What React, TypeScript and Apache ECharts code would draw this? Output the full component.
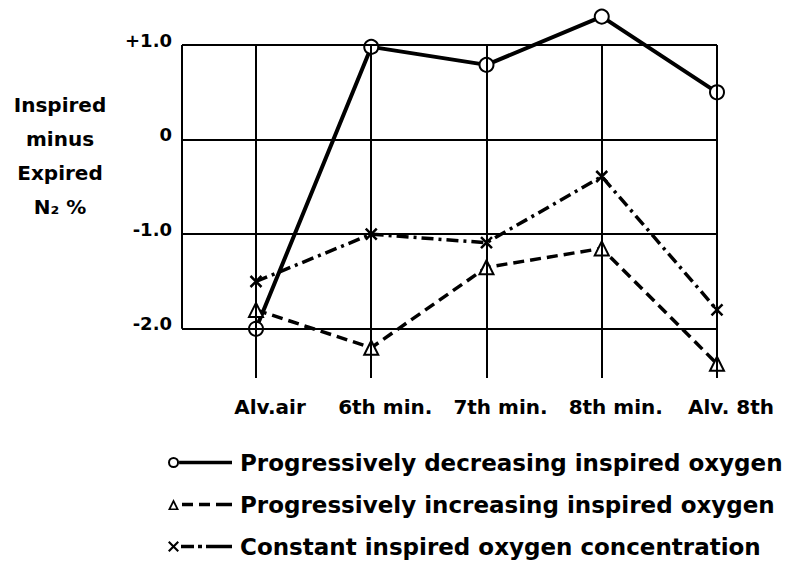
import React, { useEffect, useRef } from "react";
import * as echarts from "echarts";

const CATEGORIES = ["Alv.air", "6th min.", "7th min.", "8th min.", "Alv. 8th"];
const DECREASING = [-2.0, 0.98, 0.79, 1.3, 0.5];
const INCREASING = [-1.8, -2.2, -1.35, -1.15, -2.37];
const CONSTANT = [-1.5, -1.0, -1.09, -0.39, -1.8];
const Y_TICKS = [1, 0, -1, -2];
const SERIES_NAMES = [
  "Progressively decreasing inspired oxygen",
  "Progressively increasing inspired oxygen",
  "Constant inspired oxygen concentration",
];
const Y_NAME = "Inspired\nminus\nExpired\nN\u2082 %";

const XMIN = -0.642;
const XMAX = CATEGORIES.length - 1;
const YMIN = -2.52;
const YMAX = 1;

const FONT = "DejaVu Sans";

const ICON_CIRCLE =
  "path://M0.5,7 A5.5,5.5 0 1,1 11.5,7 A5.5,5.5 0 1,1 0.5,7 Z M2.5,7 A3.5,3.5 0 1,0 9.5,7 A3.5,3.5 0 1,0 2.5,7 Z M11.5,5.2 L64,5.2 L64,8.8 L11.5,8.8 Z";
const ICON_TRIANGLE =
  "path://M0,12.5 L5.5,1.5 L11,12.5 Z M2.8,11 L8.2,11 L5.5,5.6 Z M14,5.2 L25,5.2 L25,8.8 L14,8.8 Z M31,5.2 L42,5.2 L42,8.8 L31,8.8 Z M48,5.2 L64,5.2 L64,8.8 L48,8.8 Z";
const ICON_CROSS =
  "path://M0,3 L1.5,1.5 L11,11 L9.5,12.5 Z M1.5,12.5 L0,11 L9.5,1.5 L11,3 Z M13,5.2 L26,5.2 L26,8.8 L13,8.8 Z M30,5.2 L34,5.2 L34,8.8 L30,8.8 Z M38,5.2 L64,5.2 L64,8.8 L38,8.8 Z";
const CROSS_SYMBOL = "path://M0,0 L10,10 M10,0 L0,10";

function toPoints(values: number[]) {
  return values.map((v, i) => [i, v]);
}

export default function App() {
  const ref = useRef<HTMLDivElement>(null);

  useEffect(() => {
    if (!ref.current) return;
    const chart = echarts.init(ref.current, null, { renderer: "svg" });

    const gridLines: any[] = [];
    Y_TICKS.forEach((y) => {
      gridLines.push([{ coord: [XMIN, y] }, { coord: [XMAX, y] }]);
    });
    gridLines.push([{ coord: [XMIN, YMAX] }, { coord: [XMIN, Y_TICKS[Y_TICKS.length - 1]] }]);
    CATEGORIES.forEach((_, i) => {
      gridLines.push([{ coord: [i, YMAX] }, { coord: [i, YMIN] }]);
    });

    const option: any = {
      animation: false,
      backgroundColor: "#fff",
      textStyle: { fontFamily: FONT, color: "#000" },
      grid: { left: 182, right: 78, top: 45, bottom: 191 },
      xAxis: {
        type: "value",
        min: XMIN,
        max: XMAX,
        axisLine: { show: false },
        axisTick: { show: false },
        splitLine: { show: false },
        axisLabel: {
          customValues: CATEGORIES.map((_, i) => i),
          formatter: (v: number) => CATEGORIES[Math.round(v)] ?? "",
          fontFamily: FONT,
          fontSize: 20,
          fontWeight: "bold",
          color: "#000",
          margin: 19,
          padding: [0, 0, 0, 28],
        },
      },
      yAxis: {
        type: "value",
        min: YMIN,
        max: YMAX,
        axisLine: { show: false },
        axisTick: { show: false },
        splitLine: { show: false },
        axisLabel: {
          customValues: Y_TICKS,
          formatter: (v: number) => (v > 0 ? "+" + v.toFixed(1) : v === 0 ? "0" : v.toFixed(1)),
          fontFamily: FONT,
          fontSize: 18,
          fontWeight: "bold",
          color: "#000",
          margin: 10,
          verticalAlign: "bottom",
          lineHeight: 10,
        },
      },
      legend: {
        orient: "vertical",
        left: 168,
        top: 451,
        padding: 0,
        itemWidth: 64,
        itemHeight: 13,
        itemGap: 19,
        selectedMode: false,
        itemStyle: { color: "#000", borderWidth: 0 },
        textStyle: {
          fontFamily: FONT,
          fontSize: 23,
          fontWeight: "bold",
          color: "#000",
          padding: [0, 0, 0, 3],
        },
        data: [
          { name: SERIES_NAMES[0], icon: ICON_CIRCLE },
          { name: SERIES_NAMES[1], icon: ICON_TRIANGLE },
          { name: SERIES_NAMES[2], icon: ICON_CROSS },
        ],
      },
      graphic: [
        {
          type: "text",
          x: 60,
          y: 88,
          style: {
            text: Y_NAME,
            fontFamily: FONT,
            fontSize: 20,
            fontWeight: "bold",
            fill: "#000",
            align: "center",
            verticalAlign: "top",
            lineHeight: 34,
          },
        },
      ],
      series: [
        {
          type: "line",
          name: "grid",
          data: [],
          silent: true,
          z: 1,
          markLine: {
            silent: true,
            symbol: "none",
            label: { show: false },
            lineStyle: { color: "#000", width: 2, type: "solid" },
            data: gridLines,
          },
        },
        {
          type: "line",
          name: SERIES_NAMES[0],
          data: toPoints(DECREASING),
          clip: false,
          z: 3,
          color: "#000",
          symbol: "emptyCircle",
          symbolSize: 14,
          lineStyle: { color: "#000", width: 4, type: "solid" },
          itemStyle: { color: "#000", borderColor: "#000", borderWidth: 2 },
        },
        {
          type: "line",
          name: SERIES_NAMES[1],
          data: toPoints(INCREASING),
          clip: false,
          z: 3,
          color: "#000",
          symbol: "emptyTriangle",
          symbolSize: 14,
          lineStyle: { color: "#000", width: 3.5, type: [11, 6] },
          itemStyle: { color: "#000", borderColor: "#000", borderWidth: 2 },
        },
        {
          type: "line",
          name: SERIES_NAMES[2],
          data: toPoints(CONSTANT),
          clip: false,
          z: 3,
          color: "#000",
          symbol: CROSS_SYMBOL,
          symbolSize: 11,
          lineStyle: { color: "#000", width: 3.5, type: [12, 5, 3, 5] },
          itemStyle: { color: "#000", borderColor: "#000", borderWidth: 2.5 },
        },
      ],
    };

    chart.setOption(option);
    return () => chart.dispose();
  }, []);

  return (
    <div
      ref={ref}
      style={{ position: "fixed", left: 0, top: 0, width: 795, height: 569, background: "#fff" }}
    />
  );
}
